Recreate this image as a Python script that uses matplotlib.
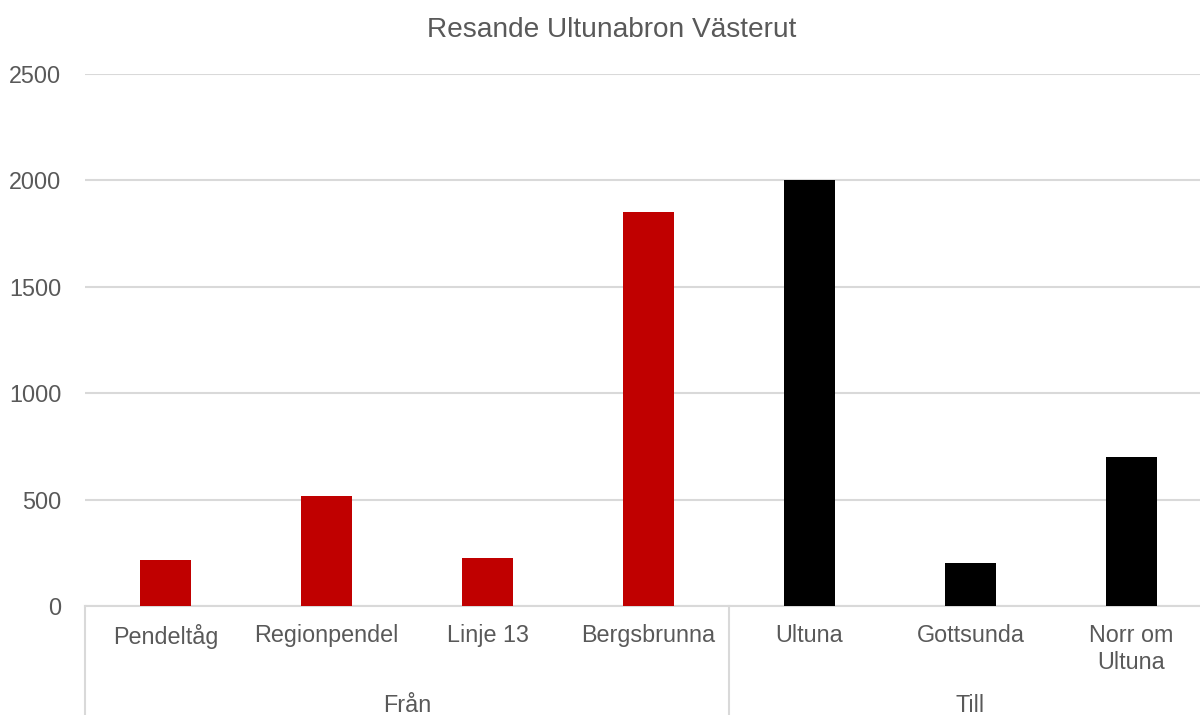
import matplotlib
matplotlib.use("Agg")
import matplotlib.pyplot as plt
from matplotlib.transforms import blended_transform_factory
from matplotlib.lines import Line2D

plt.rcParams['font.family'] = ['Liberation Sans', 'DejaVu Sans']

title = "Resande Ultunabron Västerut"
categories = ["Pendeltåg", "Regionpendel", "Linje 13", "Bergsbrunna", "Ultuna", "Gottsunda", "Norr om\nUltuna"]
values = [216, 517, 225, 1851, 2002, 202, 700]
groups = ["Från", "Till"]
group_sizes = [4, 3]
group_colors = ["#C00000", "#000000"]
yticks = [0, 500, 1000, 1500, 2000, 2500]

W, H = 1200, 715
fig = plt.figure(figsize=(W / 100, H / 100), dpi=100)
ax_left, ax_right, ax_bottom, ax_top = 85, 1212, 606, 74
ax = fig.add_axes([ax_left / W, 1 - ax_bottom / H, (ax_right - ax_left) / W, (ax_bottom - ax_top) / H])

colors = []
for g, n in zip(group_colors, group_sizes):
    colors += [g] * n
x = list(range(len(categories)))
ax.bar(x, values, width=0.317, color=colors, zorder=3)

ax.set_xlim(-0.5, len(categories) - 0.5)
ax.set_ylim(0, 2500)
ax.set_yticks(yticks)
ax.set_yticklabels([str(t) for t in yticks])
ax.tick_params(axis='y', length=0, pad=17, labelsize=16.8, labelcolor='#595959')
ax.set_xticks([])
ax.grid(axis='y', color='#d9d9d9', linewidth=1.5, zorder=0)
for s in ['top', 'right', 'left']:
    ax.spines[s].set_visible(False)
ax.spines['bottom'].set_color('#d9d9d9')
ax.spines['bottom'].set_linewidth(1.5)

tr = blended_transform_factory(ax.transData, fig.transFigure)
for xi, lab in zip(x, categories):
    ax.text(xi, 1 - 624 / H, lab, transform=tr, ha='center', va='top',
            fontsize=16.8, color='#595959', linespacing=1.2)

# group labels and separators
start = 0
bounds = [-0.5]
for gname, n in zip(groups, group_sizes):
    center = start + (n - 1) / 2
    ax.text(center, 1 - 705 / H, gname, transform=tr, ha='center', va='center',
            fontsize=16.8, color='#595959')
    start += n
    bounds.append(start - 0.5)
for b in bounds:
    ln = Line2D([b, b], [1 - ax_bottom / H, 0], transform=tr, color='#d9d9d9',
                linewidth=1.5, clip_on=False)
    fig.add_artist(ln)

fig.text(612 / W, 1 - 30 / H, title, ha='center', va='center', fontsize=20.2, color='#595959')

fig.savefig("out.png", dpi=100)
